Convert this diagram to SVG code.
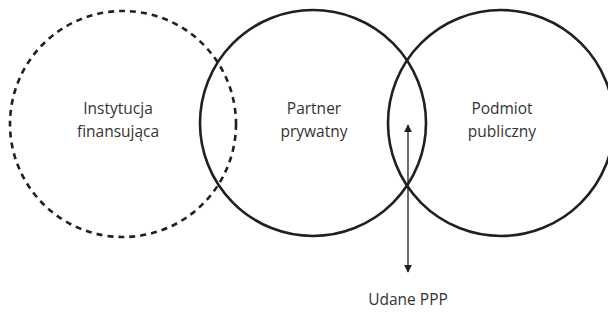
<svg xmlns="http://www.w3.org/2000/svg" width="608" height="322" viewBox="0 0 608 322">
<style>
.c{fill:none;stroke:#231f20;stroke-width:2.6}
.d{stroke-dasharray:6 5}
.t{font-family:"Open Sans","Noto Sans",sans-serif;font-size:15.5px;fill:#333;text-anchor:middle}
.a{stroke:#231f20;stroke-width:1.3;fill:none}
</style>
<defs>
<marker id="ah" viewBox="0 0 10 10" refX="9" refY="5" markerWidth="8" markerHeight="8" markerUnits="userSpaceOnUse" orient="auto-start-reverse">
<path d="M0,0 L10,5 L0,10 Z" fill="#231f20"/>
</marker>
</defs>
<g id="instytucja">
<circle class="c d" cx="123" cy="124" r="113"/>
<text class="t" x="118" y="114">Instytucja</text>
<text class="t" x="118" y="137">finansująca</text>
</g>
<g id="partner">
<circle class="c" cx="313" cy="123" r="113"/>
<text class="t" x="314" y="114">Partner</text>
<text class="t" x="314" y="137">prywatny</text>
</g>
<g id="podmiot">
<circle class="c" cx="501" cy="123" r="113"/>
<text class="t" x="502" y="114">Podmiot</text>
<text class="t" x="502" y="137">publiczny</text>
</g>
<g id="connectors">
<line class="a" x1="408" y1="125" x2="408" y2="272" marker-start="url(#ah)" marker-end="url(#ah)"/>
</g>
<text class="t" x="408" y="305">Udane PPP</text>
</svg>
